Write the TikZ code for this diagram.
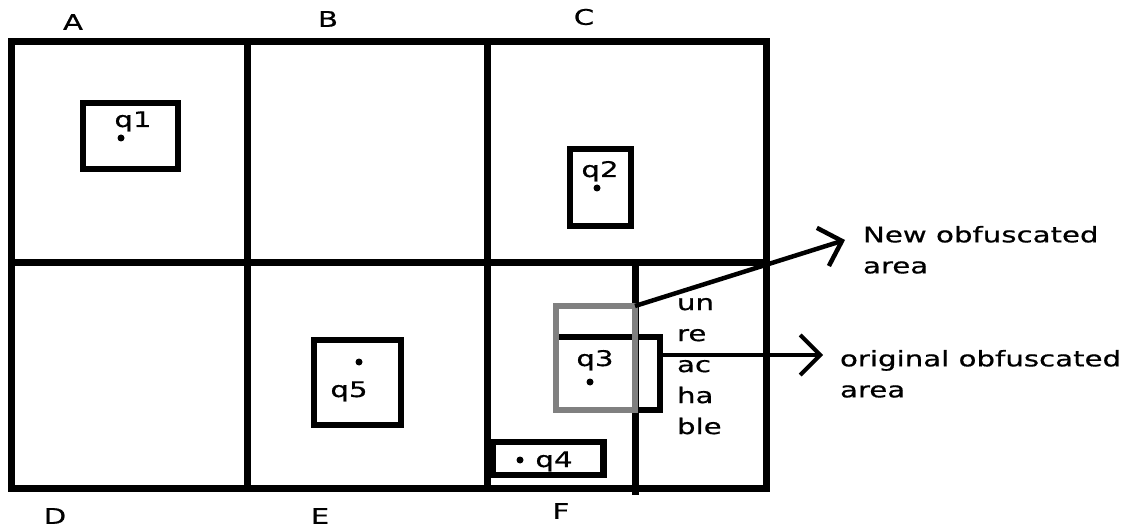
\documentclass[tikz,border=0pt]{standalone}
\usepackage{fontspec}
\setmainfont[FakeStretch=1.36,FakeBold=0.6]{DejaVu Sans}
\usetikzlibrary{arrows.meta}

\begin{document}
\begin{tikzpicture}
  [x=1pt,y=-1pt,line join=miter,
   every node/.style={font=\fontsize{21.5}{31}\selectfont,inner sep=0pt,outer sep=0pt},
   cell/.style={line width=7pt},
   qbox/.style args={#1/#2}{draw,rectangle,line width=6.5pt,minimum width=#1pt,minimum height=#2pt},
   gbox/.style args={#1/#2}{qbox=#1/#2,draw=black!50},
   dot/.style={circle,fill=black,minimum size=7pt},
   pointer/.style={line width=4.5pt,-{Straight Barb[length=20pt,width=40pt]}}]
  \useasboundingbox (0,0) rectangle (1130,529);

  % the six cells
  \draw[cell] (11,42) rectangle (766,488);
  \foreach \x in {247,487}
    \draw[cell] (\x,42) -- (\x,490);
  \draw[cell] (11,263) -- (766,263);
  \draw[cell] (635,263) -- (635,495);

  \node (A) at (73,22)  {A};
  \node (B) at (328,19) {B};
  \node (C) at (584,17) {C};
  \node (D) at (55,516) {D};
  \node (E) at (320,516) {E};
  \node (F) at (561,511) {F};

  % query boxes
  \node[qbox=95/66] (q1box) at (130.5,136) {};
  \node[qbox=61/77] (q2box) at (600.5,187.5) {};
  \node[qbox=87/85] (q5box) at (357.5,382.5) {};
  \node[qbox=111/33] (q4box) at (548,458.5) {};
  \node[qbox=104/73] (origbox) at (608,373.5) {};
  \node[gbox=79/104] (newbox) at (595.5,358) {};

  \node[anchor=base] (q1) at (133,127) {q1};
  \node[anchor=base] (q2) at (600,177) {q2};
  \node[anchor=base] (q3) at (595,366) {q3};
  \node[anchor=base] (q4) at (554,467) {q4};
  \node[anchor=base] (q5) at (349,397) {q5};

  \foreach \p/\q in {121/138,597/188,590/382,520/460,359/362}
    \node[dot] at (\p,\q) {};

  \node[anchor=north west,align=left] (unreach) at (677,298) {un\\re\\ac\\ha\\ble};

  % arrows to the labels
  \coordinate (newtip) at (845,240);
  \coordinate (origtip) at (823,355);
  \draw[pointer] (newbox.north east) -- (newtip);
  \draw[pointer,line width=4pt] (origbox.east |- origtip) -- (origtip);

  \node[anchor=north west,align=left] (newlbl) at (863,226) {New obfuscated\\area};
  \node[anchor=north west,align=left] (origlbl) at (840,350) {original obfuscated\\area};
\end{tikzpicture}
\end{document}
